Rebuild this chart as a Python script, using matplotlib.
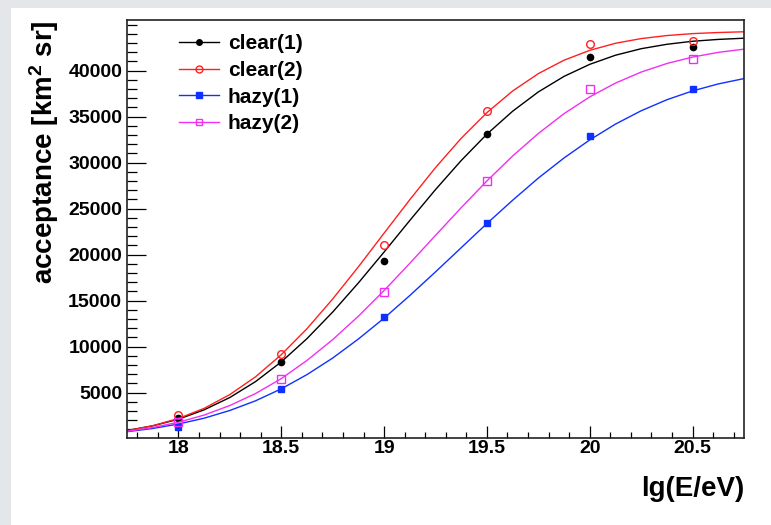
import numpy as np
import matplotlib.pyplot as plt
from matplotlib.patches import Rectangle
from matplotlib.ticker import MultipleLocator

plt.rcParams['font.family'] = ['Liberation Sans', 'DejaVu Sans']
plt.rcParams['font.weight'] = 'bold'
plt.rcParams['mathtext.fontset'] = 'custom'
plt.rcParams['mathtext.rm'] = 'Liberation Sans:bold'
plt.rcParams['mathtext.it'] = 'Liberation Sans:bold'
plt.rcParams['mathtext.bf'] = 'Liberation Sans:bold'

# simulated acceptance per energy bin
energy = [18.0, 18.5, 19.0, 19.5, 20.0, 20.5]
clear1 = [2260, 8330, 19300, 33160, 41530, 42620]
clear2 = [2520, 9160, 21020, 35590, 42900, 43240]
hazy1 = [1200, 5390, 13200, 23390, 32950, 37960]
hazy2 = [1760, 6500, 15980, 28020, 38020, 41310]

# fitted curves
fit_x = [17.75, 17.875, 18.0, 18.125, 18.25, 18.375, 18.5, 18.625, 18.75,
         18.875, 19.0, 19.125, 19.25, 19.375, 19.5, 19.625, 19.75, 19.875,
         20.0, 20.125, 20.25, 20.375, 20.5, 20.625, 20.75]
fit_clear1 = [870, 1380, 2100, 3120, 4460, 6190, 8330, 10860, 13750, 16920,
              20280, 23710, 27070, 30230, 33100, 35590, 37690, 39380, 40690,
              41680, 42390, 42870, 43200, 43400, 43530]
fit_clear2 = [850, 1390, 2180, 3280, 4780, 6710, 9110, 11940, 15170, 18670,
              22330, 25970, 29460, 32650, 35440, 37790, 39680, 41140, 42210,
              42980, 43490, 43820, 44030, 44150, 44230]
fit_hazy1 = [740, 1090, 1580, 2210, 3050, 4100, 5400, 6950, 8750, 10820,
             13090, 15550, 18120, 20750, 23380, 25910, 28320, 30510, 32470,
             34190, 35640, 36840, 37800, 38560, 39140]
fit_hazy2 = [780, 1200, 1770, 2550, 3590, 4890, 6510, 8490, 10750, 13300,
             16090, 19050, 22090, 25100, 28010, 30720, 33170, 35330, 37150,
             38650, 39850, 40780, 41480, 41990, 42340]

W, H = 771, 525
fig = plt.figure(figsize=(W / 100, H / 100), dpi=100, facecolor='#e4e7e9')
fig.patches.append(Rectangle((11 / W, 0), 1, (H - 8) / H, transform=fig.transFigure,
                             facecolor='white', edgecolor='none', zorder=-1))

ax = fig.add_axes([127 / W, 1 - 437.6 / H, 617 / W, 417.5 / H])

series = [
    ('clear(1)', clear1, fit_clear1, 'black', 'o', 'black', 4.5),
    ('clear(2)', clear2, fit_clear2, '#ff2020', 'o', 'none', 5.5),
    ('hazy(1)', hazy1, fit_hazy1, '#1030ff', 's', '#1030ff', 4.5),
    ('hazy(2)', hazy2, fit_hazy2, '#f030f0', 's', 'none', 5.5),
]
for label, pts, fit, col, mk, fc, ms in series:
    ax.plot(energy, pts, linestyle='none', marker=mk, ms=ms, mfc=fc, mec=col, mew=1.0)
    ax.plot(fit_x, fit, color=col, lw=1.0)
    ax.plot([], [], color=col, lw=1.0, marker=mk, ms=ms - 0.5, mfc=fc, mec=col,
            mew=1.0, label=label)

ax.set_xlim(17.75, 20.75)
ax.set_ylim(100, 45500)
ax.xaxis.set_major_locator(MultipleLocator(0.5))
ax.xaxis.set_minor_locator(MultipleLocator(0.1))
ax.yaxis.set_major_locator(MultipleLocator(5000))
ax.yaxis.set_minor_locator(MultipleLocator(1000))
ax.set_xticks([18, 18.5, 19, 19.5, 20, 20.5])
ax.set_xticklabels(['18', '18.5', '19', '19.5', '20', '20.5'])
ax.set_yticks([5000, 10000, 15000, 20000, 25000, 30000, 35000, 40000])

ax.tick_params(axis='both', which='both', direction='in', top=False, right=False,
               labelsize=14, width=0.9)
ax.tick_params(axis='x', which='major', length=8.9, pad=2)
ax.tick_params(axis='x', which='minor', length=4.6)
ax.tick_params(axis='y', which='major', length=14, pad=3.5)
ax.tick_params(axis='y', which='minor', length=7)
for sp in ax.spines.values():
    sp.set_linewidth(1.2)
    sp.set_color('#222222')

fig.text(44.3 / W, 1 - 20 / H, r'acceptance [km$^2$ sr]', rotation=90,
         ha='center', va='top', fontsize=20, fontweight='bold')
fig.text(744 / W, 1 - 476 / H, 'lg(E/eV)', ha='right', va='top',
         fontsize=20, fontweight='bold')

ax.legend(loc='upper left', bbox_to_anchor=(0.085, 0.966), frameon=False,
          fontsize=15, handlelength=1.9, handletextpad=0.42,
          labelspacing=0.37, borderpad=0, borderaxespad=0)

fig.savefig('out.png', dpi=100, facecolor=fig.get_facecolor())
